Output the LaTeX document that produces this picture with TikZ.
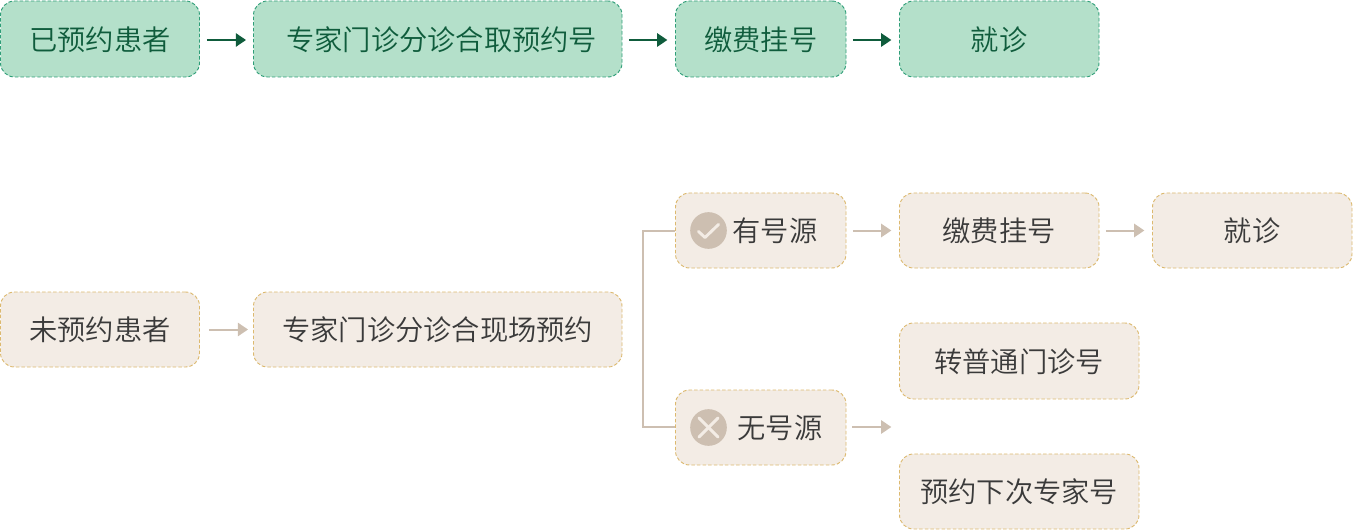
\documentclass[tikz,border=0pt]{standalone}
\usepackage{fontspec}
\setmainfont{Noto Sans CJK SC}[UprightFont=* DemiLight]
\usetikzlibrary{arrows.meta}
\definecolor{gfill}{HTML}{B4E0CA}
\definecolor{gline}{HTML}{2F9E78}
\definecolor{gtext}{HTML}{0F5C3C}
\definecolor{bfill}{HTML}{F3ECE5}
\definecolor{bline}{HTML}{DCB96F}
\definecolor{btext}{HTML}{3A3A3A}
\definecolor{tan}{HTML}{CDBFB1}
\newcommand{\lowertext}[1]{\raisebox{-0.75pt}[\height][\depth]{#1}}
\tikzset{
  x=0.75pt,y=-0.75pt,
  flowbox/.style 2 args={rectangle,rounded corners=10.5pt,line width=0.7pt,
    dash pattern=on 2.6pt off 1.6pt,inner sep=0pt,anchor=center,
    minimum width=#1*0.75pt,minimum height=#2*0.75pt,font=\fontsize{21.2}{21.2}\selectfont},
  gbox/.style={draw=gline,fill=gfill,text=gtext},
  bbox/.style={draw=bline,fill=bfill,text=btext},
  garrow/.style={draw=gtext,line width=1.5pt,-{Triangle[length=7.7pt,width=10pt]},shorten <=5.25pt,shorten >=5.25pt},
  barrow/.style={draw=tan,line width=1.5pt,-{Triangle[length=7.7pt,width=10pt]},shorten <=5.25pt,shorten >=5.25pt},
  elbow/.style={draw=tan,line width=1.5pt},
  iconbg/.style={circle,fill=tan,inner sep=0pt,minimum size=27.5pt},
  iconmark/.style={draw=bfill,line width=2.2pt,line cap=round,line join=round},
}
\begin{document}
\begin{tikzpicture}
\useasboundingbox (0,0) rectangle (1353,531);
% top row
\node[flowbox={199}{76},gbox] (a1) at (100,39) {\lowertext{已预约患者}};
\node[flowbox={368.5}{76},gbox] (a2) at (437.75,39) {\hspace*{6pt}\lowertext{专家门诊分诊合取预约号}};
\node[flowbox={170.5}{76},gbox] (a3) at (760.75,39) {\lowertext{缴费挂号}};
\node[flowbox={199.5}{76},gbox] (a4) at (999.25,39) {\lowertext{就诊}};
\draw[garrow,transform canvas={yshift=-0.75pt}] (a1) -- (a2);
\draw[garrow,transform canvas={yshift=-0.75pt,xshift=-0.5pt}] (a2) -- (a3);
\draw[garrow,transform canvas={yshift=-0.75pt,xshift=-0.5pt}] (a3) -- (a4);
% lower nodes
\node[flowbox={199}{75},bbox] (b1) at (100,329.5) {未预约患者};
\node[flowbox={368.5}{75},bbox] (b2) at (437.75,329.5) {专家门诊分诊合现场预约};
\node[flowbox={170.5}{75},bbox] (c1) at (760.75,230.5) {\hspace*{21.5pt}有号源};
\node[flowbox={199.5}{75},bbox] (c2) at (999.25,230.5) {缴费挂号};
\node[flowbox={199.5}{75},bbox] (c3) at (1252.25,230.5) {就诊};
\node[flowbox={170.5}{75},bbox] (d1) at (760.75,427.5) {\hspace*{29pt}无号源};
\node[flowbox={239.5}{76},bbox] (e1) at (1019.25,361) {\lowertext{转普通门诊号}};
\node[flowbox={239.5}{75},bbox] (e2) at (1019.25,491.5) {预约下次专家号};
\coordinate (dend) at (899,427);
\coordinate (dstart) at (846,427);
\coordinate (rail) at (643,330);
\draw[barrow,transform canvas={xshift=1.5pt}] (b1) -- (b2);
\draw[barrow,transform canvas={xshift=-0.5pt}] (c1) -- (c2);
\draw[barrow,transform canvas={xshift=-0.5pt}] (c2) -- (c3);
\draw[barrow,transform canvas={xshift=-0.5pt}] (dstart) -- (dend);
\draw[elbow] (c1.west) -- (rail |- c1.west) -- ([yshift=0.75pt]rail |- d1.west) -- ([yshift=0.75pt]d1.west);
% icons
\node[iconbg] (ok) at (708.5,230.5) {};
\draw[iconmark] (698.5,231.5) -- (705,237.5) -- (718.5,224.5);
\node[iconbg] (no) at (708.5,427.5) {};
\draw[iconmark] (699,418) -- (718,437);
\draw[iconmark] (718,418) -- (699,437);
\end{tikzpicture}
\end{document}
